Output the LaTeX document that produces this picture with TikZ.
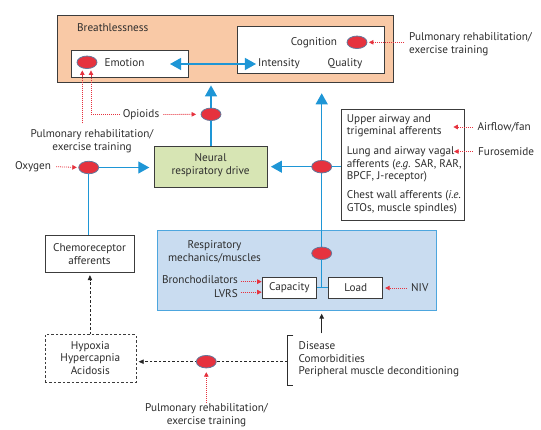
\documentclass[tikz,border=0pt]{standalone}
\usepackage{fontspec}
\setmainfont{PT Sans}
\usetikzlibrary{arrows.meta,shapes.geometric,calc}
\definecolor{peach}{RGB}{249,201,166}
\definecolor{sage}{RGB}{215,229,180}
\definecolor{paleblue}{RGB}{201,220,240}
\definecolor{boxblue}{RGB}{77,166,222}
\definecolor{arrblue}{RGB}{30,150,214}
\definecolor{dotred}{RGB}{230,50,62}
\definecolor{ellrim}{RGB}{100,120,155}
\definecolor{txtc}{RGB}{45,45,45}
\definecolor{rimc}{RGB}{60,60,60}
\tikzset{
  txt/.style={inner sep=0pt, text=txtc, font=\fontsize{11.2}{12.7}\selectfont},
  box/.style={draw=rimc, line width=0.9pt, inner sep=0pt, anchor=north west},
  oval/.style={ellipse, fill=dotred, draw=ellrim, line width=0.8pt, minimum width=20pt, minimum height=12.5pt, inner sep=0pt},
  blueline/.style={draw=arrblue, line width=1.2pt},
  bluearr/.style={blueline, -{Triangle[length=11pt,width=12pt]}},
  bluearrs/.style={blueline, {Triangle[length=11pt,width=12pt]}-{Triangle[length=11pt,width=12pt]}},
  redarr/.style={draw=dotred, line width=0.8pt, dash pattern=on 1pt off 1pt, -{Triangle[length=4.5pt,width=4.5pt]}},
  blackdash/.style={draw=black!85, line width=0.7pt, dash pattern=on 2.5pt off 2pt, -{Triangle[length=5pt,width=4.5pt]}},
  blackarr/.style={draw=black!85, line width=0.9pt, -{Triangle[length=5pt,width=4.5pt]}},
}
\begin{document}
\begin{tikzpicture}[x=1pt,y=-1pt]
\useasboundingbox (0,0) rectangle (541,430);
% Breathlessness
\node[box, fill=peach, minimum width=336pt, minimum height=67pt] (breath) at (57,15) {};
\node[txt, anchor=west] (breathlbl) at (77,28) {Breathlessness};
\node[box, fill=white, minimum width=117pt, minimum height=27.3pt] (emobox) at (71,50) {};
\node[oval] (emoell) at (87,62.3) {};
\node[txt] (emo) at (124.6,62.8) {Emotion};
\node[box, fill=white, minimum width=146.7pt, minimum height=47.3pt] (cogbox) at (237.3,26) {};
\node[txt] (cog) at (314,42.8) {Cognition};
\node[oval] (cogell) at (357,42.3) {};
\node[txt] (inten) at (279,64) {Intensity};
\node[txt] (qual) at (345,64) {Quality};
\coordinate (emoarr) at (170,64);
\draw[bluearrs] (emoarr) -- ([xshift=-2pt]inten.west);
\node[txt, anchor=west, align=left] (pulmT) at (409,44) {Pulmonary rehabilitation/\\exercise training};
\draw[redarr, shorten <=5pt, shorten >=1.5pt] (pulmT.west |- cogell) -- (cogell.east);
% Opioids
\node[oval] (opell) at (211,114.3) {};
\node[txt] (opi) at (141,114.5) {Opioids};
\draw[redarr, shorten <=4pt, shorten >=4.5pt] (opi.east) -- (opell.west);
\coordinate (e1) at ([xshift=-4.7pt]emoell.south);
\coordinate (e2) at ([xshift=4pt]emoell.south);
\draw[redarr, shorten >=1.5pt] ([xshift=-3pt]opi.west) -| (e2);
\node[txt, align=center] (pulmL) at (92,141) {Pulmonary rehabilitation/\\exercise training};
\draw[redarr, shorten <=6pt, shorten >=1.5pt] (pulmL.north -| e1) -- (e1);
% Neural
\node[box, fill=sage, minimum width=113.3pt, minimum height=41.6pt] (neural) at (154,145.7) {};
\node[txt, align=center] (neurtxt) at (210.6,165.5) {Neural\\respiratory drive};
\draw[blueline] (neural.north -| opell) -- (opell);
\draw[bluearr, shorten >=2.5pt] (opell) -- (opell |- breath.south);
% Oxygen
\node[txt] (oxy) at (33,166.5) {Oxygen};
\node[oval] (oxell) at (88.7,167.5) {};
\draw[redarr, shorten <=5pt, shorten >=1.5pt] (oxy.east) -- (oxell.west);
\draw[bluearr, shorten >=4.7pt] (oxell) -- (oxell -| neural.west);
% Chemo
\node[box, fill=white, minimum width=89pt, minimum height=37.3pt] (chemo) at (45,235) {};
\node[txt, align=center] (chemotxt) at (89.5,254) {Chemoreceptor\\afferents};
\draw[blueline] (oxell) -- (oxell |- chemo.north);
% Hypoxia
\node[box, fill=white, dash pattern=on 2.5pt off 2pt, line width=0.8pt, minimum width=91pt, minimum height=47.4pt] (hypox) at (44.5,334.3) {};
\node[txt, align=center] (hyptxt) at (90.3,358) {Hypoxia\\Hypercapnia\\Acidosis};
\draw[blackdash, shorten >=2pt] (hypox.north -| chemo) -- (chemo.south);
% Bracket and disease
\draw[draw=txtc, line width=0.9pt] (293.3,335) -- (287.3,335) -- (287.3,385) -- (293.3,385);
\coordinate (brk) at (287.3,361.7);
\node[txt, anchor=west, align=left] (dis) at (298.5,359.5) {Disease\\Comorbidities\\Peripheral muscle deconditioning};
\draw[blackdash, shorten >=2.4pt] (brk) -- (brk -| hypox.east);
\node[oval] (botell) at (206.3,361.7) {};
\node[txt, align=center] (pulmB) at (206.5,415.5) {Pulmonary rehabilitation/\\exercise training};
\draw[redarr, shorten <=1pt, shorten >=3.8pt] (pulmB.north -| botell) -- (botell.south);
% Respiratory mechanics
\node[box, draw=boxblue, fill=paleblue, minimum width=279pt, minimum height=80pt] (resp) at (156.5,230.3) {};
\node[txt, align=center] (resptxt) at (214.5,251.5) {Respiratory\\mechanics/muscles};
\node[box, fill=white, minimum width=54.3pt, minimum height=21pt] (cap) at (261.7,276.7) {};
\node[txt] (captxt) at (cap.center) {Capacity};
\node[box, fill=white, minimum width=54pt, minimum height=21pt] (load) at (328.3,276.7) {};
\node[txt] (loadtxt) at (load.center) {Load};
\coordinate (respc) at (321.7,253.3);
\draw[blueline] (respc) -- (respc |- cap.east);
\draw[blueline] (cap.east) -- (load.west);
\node[txt, anchor=east] (bron) at (238,279.3) {Bronchodilators};
\node[txt, anchor=east] (lvrs) at (238,293.3) {LVRS};
\coordinate (c1) at ([yshift=6pt]cap.west);
\coordinate (c2) at ([yshift=-4.5pt]cap.west);
\draw[redarr, shorten <=2.5pt] (bron.east |- c1) -- (c1);
\draw[redarr, shorten <=2.5pt] (lvrs.east |- c2) -- (c2);
\node[txt, anchor=west] (niv) at (411,288) {NIV};
\draw[redarr, shorten <=4.3pt, shorten >=2pt] (niv.west) -- (niv.west -| load.east);
\coordinate (blk) at (321.7,333.3);
\draw[blackarr, shorten >=2.4pt] (blk) -- (blk |- resp.south);
% Right side afferents
\coordinate (rc) at (321.7,166.7);
\coordinate (tipR) at (321.7,93.3);
\draw[blueline] (respc) -- (rc);
\draw[bluearr] (rc) -- (tipR);
\draw[bluearr, shorten >=2.7pt] (rc) -- (rc -| neural.east);
\node[box, fill=white, minimum width=123.6pt, minimum height=111pt] (aff) at (340.7,109) {};
\draw[blueline] (rc) -- (rc -| aff.west);
\node[oval] (rell) at (rc) {};
\node[oval] (respell) at (respc) {};
\node[txt, anchor=west, align=left] (aff1) at (346.7,125.8) {Upper airway and\\trigeminal afferents};
\node[txt, anchor=west, align=left] (aff2) at (346.7,164.3) {Lung and airway vagal\\afferents (\textit{e.g.} SAR, RAR,\\BPCF, J-receptor)};
\node[txt, anchor=west, align=left] (aff3) at (346.7,202.5) {Chest wall afferents (\textit{i.e.}\\GTOs, muscle spindles)};
\node[txt, anchor=west] (air) at (477.3,127) {Airflow/fan};
\node[txt, anchor=west] (furo) at (478,151.5) {Furosemide};
\coordinate (airtip) at (453.3,127);
\coordinate (furotip) at (454,151.5);
\draw[redarr, shorten <=4.6pt] (air.west) -- (airtip);
\draw[redarr, shorten <=5.3pt] (furo.west) -- (furotip);
\end{tikzpicture}
\end{document}
